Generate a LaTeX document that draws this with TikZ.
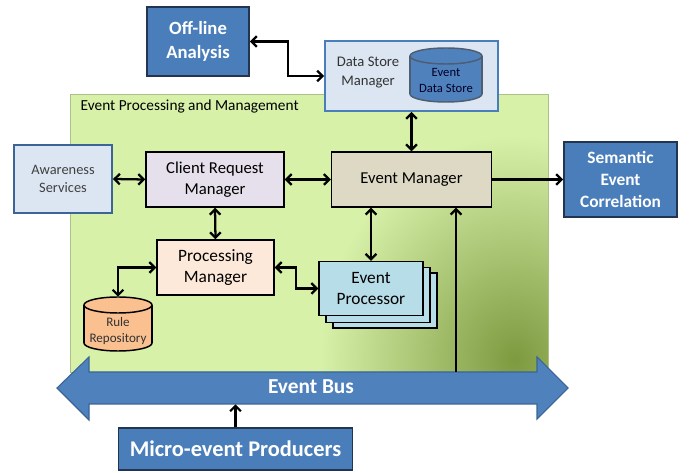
\documentclass[tikz,border=0pt]{standalone}
\usepackage{fontspec}
\setmainfont{Carlito}
\usetikzlibrary{arrows.meta}
\definecolor{dkblue}{HTML}{4A7EBB}
\definecolor{dkborder}{HTML}{22344F}
\definecolor{ltblue}{HTML}{DCE6F2}
\definecolor{midblue}{HTML}{4F81BD}
\definecolor{lavender}{HTML}{E6E0EC}
\definecolor{tan}{HTML}{DDD9C4}
\definecolor{peach}{HTML}{FDE9D9}
\definecolor{epblue}{HTML}{B7DDE8}
\definecolor{orangec}{HTML}{FAC090}
\definecolor{lgreen}{HTML}{D7F1A9}
\definecolor{olive}{HTML}{7E9A40}
\definecolor{busborder}{HTML}{3A6496}
\begin{document}
\begin{tikzpicture}[x=0.75pt,y=-0.75pt,
  darkbox/.style={draw=dkborder,line width=1.4pt,fill=dkblue,text=white,font=\bfseries,align=center,inner sep=0pt},
  lightbox/.style={draw=black,line width=1.1pt,align=center,inner sep=0pt,font=\fontsize{12.5}{15.5}\selectfont},
  conn/.style={line width=1.7pt,{Straight Barb[length=4pt,width=8pt]}-{Straight Barb[length=4pt,width=8pt]}},
  conn1/.style={line width=1.7pt,-{Straight Barb[length=4pt,width=8pt]}},
  cyl/.style={line width=1.1pt}
]
\useasboundingbox (0,0) rectangle (689,473);

% green region
\fill[lgreen] (70,94) rectangle (548,372);
\begin{scope}
  \clip (70,94) rectangle (548,372);
  \shade[inner color=olive,outer color=lgreen] (515,360) ellipse [x radius=195,y radius=225];
\end{scope}
\draw[draw=lgreen!80!black,line width=0.4pt] (70,94) rectangle (548,372);
\node[anchor=west,font=\fontsize{11.5}{13}\selectfont] (epmlabel) at (76,107) {Event Processing and Management};

% top boxes
\node[darkbox,minimum width=76.5pt,minimum height=51.75pt,font=\bfseries\fontsize{14}{17.5}\selectfont] (off) at (198,41.5) {Off-line\\Analysis};
\node[draw=dkblue,line width=1.4pt,fill=ltblue,minimum width=129.75pt,minimum height=52.5pt] (dsm) at (411.5,76) {};
\node[align=center,text=black!80,font=\fontsize{11}{14.5}\selectfont] (dsmtxt) at (368,72.5) {Data Store\\Manager};

% event data store cylinder
\node[minimum width=54pt,minimum height=41.25pt,inner sep=0pt] (eds) at (446,75) {};
\fill[midblue,draw=dkborder!80,cyl] (446,94) ellipse [x radius=36,y radius=8];
\fill[midblue] (410,56) rectangle (482,94);
\draw[dkborder!80,cyl] (410,56) -- (410,94) (482,56) -- (482,94);
\fill[midblue,draw=dkborder!80,cyl] (446,56) ellipse [x radius=36,y radius=8];
\node[align=center,text=black!85!blue,font=\fontsize{9.5}{12}\selectfont] (edstxt) at (446,80) {Event\\Data Store};

% middle row
\node[lightbox,fill=ltblue,draw=dkblue!80!black,line width=1.4pt,text=black!75,font=\fontsize{10.8}{13.5}\selectfont,minimum width=73.5pt,minimum height=51pt] (aw) at (63,179) {Awareness\\Services};
\node[lightbox,fill=lavender,minimum width=103.5pt,minimum height=41.25pt] (crm) at (215,179.5) {Client Request\\Manager};
\node[lightbox,fill=tan,minimum width=120pt,minimum height=41.25pt] (em) at (411.5,179.5) {Event Manager};
\node[darkbox,minimum width=84.75pt,minimum height=56.25pt,font=\bfseries\fontsize{13}{16.5}\selectfont] (sem) at (620.5,179.5) {Semantic\\Event\\Correlation};

% lower row
\node[lightbox,fill=peach,minimum width=87.75pt,minimum height=41.25pt,font=\fontsize{13}{15.5}\selectfont] (pm) at (215.5,267.5) {Processing\\Manager};
\draw[fill=epblue,line width=1.1pt] (333,273) rectangle (437,328);
\draw[fill=epblue,line width=1.1pt] (326,267.5) rectangle (430,322.5);
\node[lightbox,fill=epblue,minimum width=78pt,minimum height=40.5pt,font=\fontsize{13}{15.5}\selectfont] (ep) at (371,288.5) {Event\\Processor};

% rule repository cylinder
\node[minimum width=51pt,minimum height=40.5pt,inner sep=0pt] (rule) at (118,324) {};
\fill[orangec,draw=black,cyl] (118,343) ellipse [x radius=34,y radius=8];
\fill[orangec] (84,305) rectangle (152,343);
\draw[black,cyl] (84,305) -- (84,343) (152,305) -- (152,343);
\fill[orangec,draw=black,cyl] (118,305) ellipse [x radius=34,y radius=8];
\node[align=center,text=black!80,font=\fontsize{9.8}{12}\selectfont] (ruletxt) at (118,331) {Rule\\Repository};

% event bus
\fill[midblue,draw=busborder,line width=0.8pt] (57,388) -- (89,357) -- (89,372) -- (537,372) -- (537,357) -- (568,388) -- (537,419) -- (537,404) -- (89,404) -- (89,420) -- cycle;
\node[minimum width=336pt,minimum height=24pt,inner sep=0pt] (bus) at (313,388) {};
\node[text=white,font=\bfseries\fontsize{16}{18}\selectfont] (bustxt) at (311,387) {Event Bus};

\node[darkbox,minimum width=175.5pt,minimum height=31.5pt,font=\bfseries\fontsize{16.8}{19}\selectfont] (micro) at (235.5,449) {Micro-event Producers};

% connectors
\draw[conn] (off.east) -- ++(38,0) |- (dsm.west);
\draw[conn] (dsm.south) -- (dsm.south |- em.north);
\draw[conn] (aw.east) -- (crm.west);
\draw[conn] (crm.east) -- (em.west);
\draw[conn1] (em.east) -- (sem.west);
\draw[conn] (crm.south) -- (pm.north);
\draw[conn] (pm.east) -- ++(21,0) |- (ep.west);
\draw[conn] (pm.west) -| (rule.north);
\draw[conn] (ep.north) -- (ep.north |- em.south);
\coordinate (busin) at (456,372);
\draw[conn1] (busin) -- (busin |- em.south);
\draw[conn1] (micro.north) -- (micro.north |- bus.south);
\end{tikzpicture}
\end{document}
